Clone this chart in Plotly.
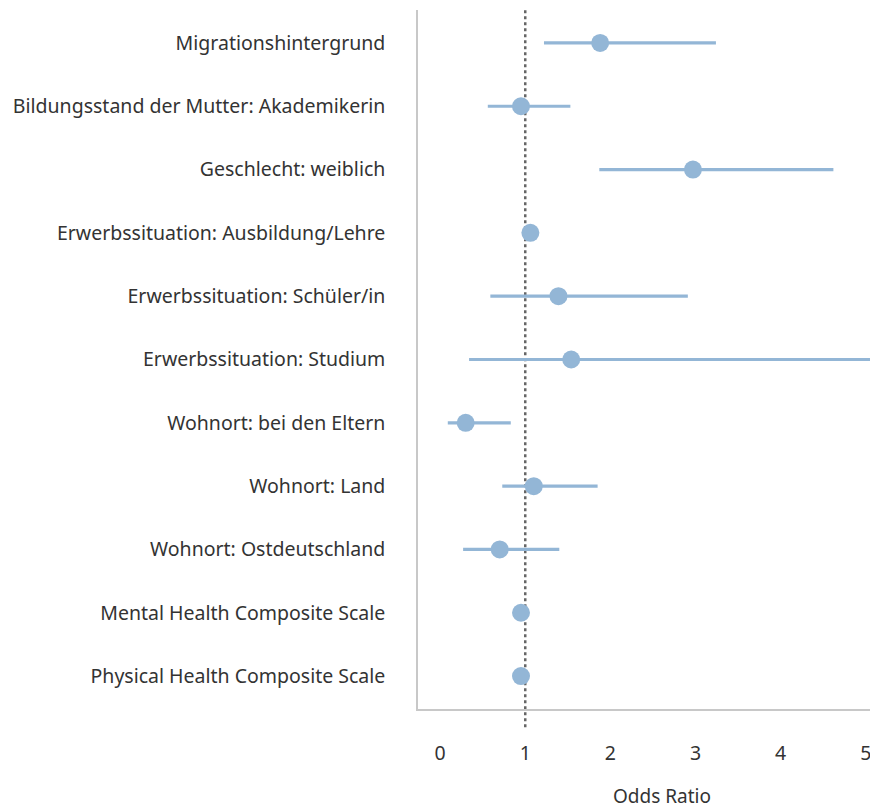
import plotly.graph_objects as go

categories = [
    "Migrationshintergrund",
    "Bildungsstand der Mutter: Akademikerin",
    "Geschlecht: weiblich",
    "Erwerbssituation: Ausbildung/Lehre",
    "Erwerbssituation: Schüler/in",
    "Erwerbssituation: Studium",
    "Wohnort: bei den Eltern",
    "Wohnort: Land",
    "Wohnort: Ostdeutschland",
    "Mental Health Composite Scale",
    "Physical Health Composite Scale",
]
odds_ratio = [1.88, 0.95, 2.97, 1.06, 1.39, 1.54, 0.30, 1.10, 0.70, 0.95, 0.95]
ci_lower = [1.22, 0.56, 1.87, 1.00, 0.59, 0.34, 0.09, 0.73, 0.27, 0.94, 0.94]
ci_upper = [3.24, 1.53, 4.62, 1.12, 2.91, 6.50, 0.83, 1.85, 1.40, 0.96, 0.96]
x_ticks = [0, 1, 2, 3, 4, 5]

color = "#93b6d6"
font_family = "Noto Sans"

err_plus = [u - o for u, o in zip(ci_upper, odds_ratio)]
err_minus = [o - l for o, l in zip(odds_ratio, ci_lower)]

fig = go.Figure()
fig.add_trace(go.Scatter(
    x=odds_ratio,
    y=categories,
    mode="markers",
    marker=dict(size=18, color=color),
    error_x=dict(type="data", symmetric=False, array=err_plus, arrayminus=err_minus,
                 color=color, thickness=3.2, width=0),
    showlegend=False,
))

fig.add_shape(type="line", xref="x", yref="paper", x0=1, x1=1, y0=-0.026, y1=1,
              line=dict(color="#666666", width=2.5, dash="dot"), layer="below")

fig.add_annotation(text="Odds Ratio", xref="paper", yref="paper", x=0.54, y=-0.124,
                   showarrow=False, font=dict(size=19, color="#333333", family=font_family),
                   xanchor="center", yanchor="middle")

fig.update_layout(
    width=870, height=810,
    margin=dict(l=418, r=0, t=10, b=101),
    paper_bgcolor="white", plot_bgcolor="white",
    font=dict(family=font_family, size=19.5, color="#333333"),
    xaxis=dict(range=[-0.26, 5.05], tickvals=x_ticks, showgrid=False, zeroline=False,
               showline=True, linecolor="#c8c8c8", linewidth=1.5,
               ticks="", ticklabelstandoff=26, ticklabeloverflow="allow"),
    yaxis=dict(type="category", categoryorder="array", categoryarray=categories,
               range=[10.52, -0.52],
               showgrid=False, zeroline=False, showline=True, linecolor="#c8c8c8",
               linewidth=1.5, ticks="", ticklabelstandoff=27),
)

fig.write_html(
    "out.html",
    config={"displayModeBar": False},
    post_script="document.body.style.margin='0';document.body.style.overflow='hidden';",
)
